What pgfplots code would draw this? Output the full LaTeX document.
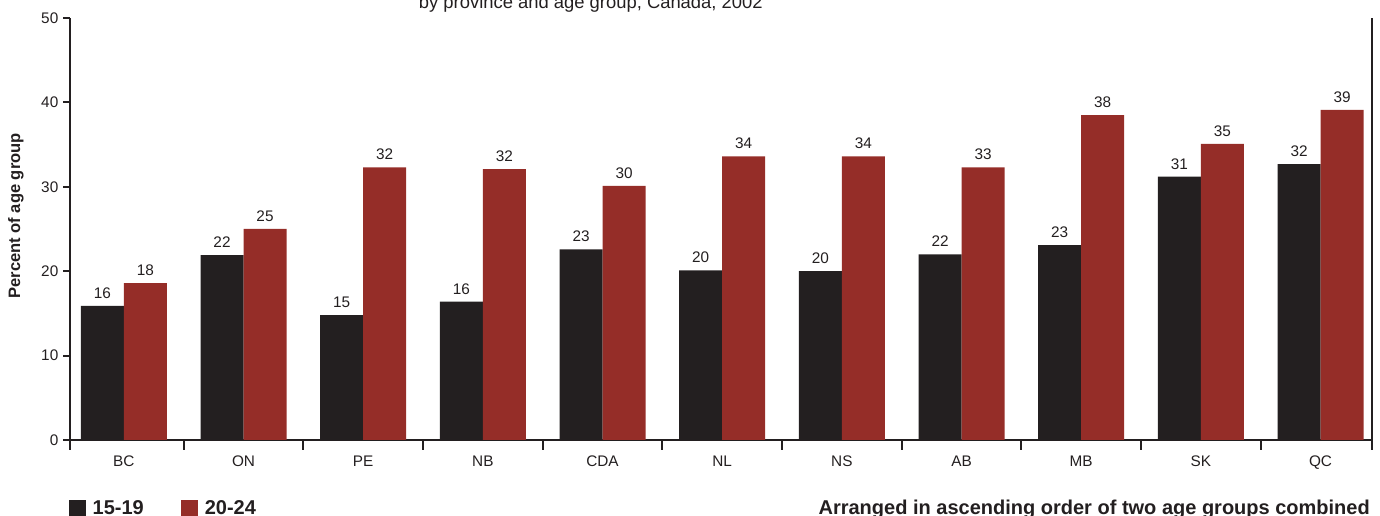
\documentclass[border=0pt]{standalone}
\usepackage{fontspec}
\setmainfont{Liberation Sans}
\usepackage{pgfplots}
\pgfplotsset{compat=1.18}
\definecolor{cblack}{HTML}{231F20}
\definecolor{cred}{HTML}{952D28}
\begin{document}
\begin{tikzpicture}
\begin{axis}[
  at={(52.5pt,57pt)}, anchor=south west,
  width=976.5pt, height=316.5pt, scale only axis,
  xmin=-0.45, xmax=10.43, ymin=0, ymax=50,
  ybar=0pt, bar width=32.25pt,
  axis x line*=bottom, axis y line*=box, ytick pos=left,
  axis line style={cblack, line width=1.6pt},
  tick align=outside, major tick length=5.25pt,
  ytick={0,10,20,30,40,50},
  ytick style={cblack, line width=1.5pt},
  xtick={0,1,2,3,4,5,6,7,8,9,10},
  xticklabels={BC,ON,PE,NB,CDA,NL,NS,AB,MB,SK,QC},
  xtick style={draw=none},
  extra x ticks={-0.45,0.5,1.5,2.5,3.5,4.5,5.5,6.5,7.5,8.5,9.5,10.43},
  extra x tick labels={},
  extra x tick style={major tick length=7.5pt, xtick style={draw=cblack, line width=1.5pt}},
  /pgf/number format/assume math mode=true,
  ticklabel style={font=\fontsize{11.5}{13}\selectfont, text=cblack},
  xticklabel style={yshift=-3pt},
  ylabel={\textbf{Percent of age group}},
  ylabel style={at={(axis description cs:-0.0415,0.531)}, anchor=center, font=\fontsize{12.4}{14}\selectfont, text=cblack},
  point meta=explicit symbolic,
  nodes near coords,
  every node near coord/.append style={font=\fontsize{11.5}{13}\selectfont, text=cblack, yshift=2pt},
  legend style={at={(axis description cs:-0.001,-0.1623)}, anchor=west, draw=none, fill=none,
    inner sep=0pt, outer sep=0pt, font=\bfseries\fontsize{15}{18}\selectfont, text=cblack,
    legend columns=2,
    /tikz/every odd column/.append style={column sep=5.25pt},
    /tikz/every even column/.append style={column sep=27.75pt},
    nodes={inner sep=0pt}},
  legend image code/.code={\fill[#1,draw=none] (0pt,-6.375pt) rectangle (12.75pt,6.375pt);},
  clip=false,
]
\addplot[fill=cblack, draw=none] coordinates {
  (0,15.9) [16] (1,21.9) [22] (2,14.8) [15] (3,16.4) [16] (4,22.6) [23]
  (5,20.1) [20] (6,20.0) [20] (7,22.0) [22] (8,23.1) [23] (9,31.2) [31] (10,32.7) [32]
};
\addplot[fill=cred, draw=none] coordinates {
  (0,18.6) [18] (1,25.0) [25] (2,32.3) [32] (3,32.1) [32] (4,30.1) [30]
  (5,33.6) [34] (6,33.6) [34] (7,32.3) [33] (8,38.5) [38] (9,35.1) [35] (10,39.1) [39]
};
\legend{15-19,20-24}
\node[anchor=base, font=\fontsize{13.8}{16}\selectfont, text=cblack] at (axis description cs:0.400,1.0225) {by province and age group, Canada, 2002};
\node[anchor=base east, font=\bfseries\fontsize{15}{18}\selectfont, text=cblack, inner sep=0pt] at (axis description cs:0.9985,-0.1777) {Arranged in ascending order of two age groups combined};
\end{axis}
\pgfresetboundingbox
\useasboundingbox (0,0) rectangle (1035pt,387pt);
\end{tikzpicture}
\end{document}
